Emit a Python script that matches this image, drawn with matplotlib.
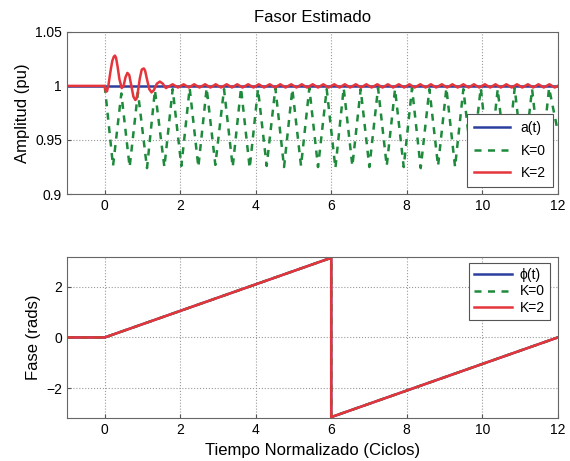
import matplotlib.pyplot as plt
import numpy as np

plt.rcParams['font.family'] = ['Liberation Sans', 'DejaVu Sans']

# --- amplitud ---
t_ref = [-1.0, 12.0]
a_ref = [1.0, 1.0]

# K=0: picos y valles de la estimacion de amplitud
k0_t = [0.00, 0.22, 0.44, 0.66, 0.88, 1.12, 1.33, 1.58, 1.80, 2.03, 2.25, 2.48,
        2.70, 2.93, 3.16, 3.39, 3.61, 3.84, 4.06, 4.29, 4.52, 4.75, 4.97, 5.20,
        5.42, 5.65, 5.88, 6.11, 6.33, 6.56, 6.78, 7.01, 7.24, 7.47, 7.69, 7.92,
        8.14, 8.37, 8.60, 8.83, 9.05, 9.28, 9.50, 9.73, 9.96, 10.19, 10.41, 10.64,
        10.86, 11.09, 11.32, 11.55, 11.77, 11.99]
k0_a = [1.000, 0.926, 0.993, 0.925, 0.994, 0.924, 0.996, 0.925, 0.997, 0.926, 0.998, 0.925,
        0.998, 0.927, 0.997, 0.925, 0.998, 0.924, 0.997, 0.926, 0.998, 0.925, 0.997, 0.926,
        0.998, 0.925, 0.997, 0.924, 0.998, 0.926, 0.997, 0.925, 0.998, 0.926, 0.997, 0.925,
        0.998, 0.924, 0.997, 0.926, 0.998, 0.925, 0.997, 0.926, 0.998, 0.925, 0.997, 0.924,
        0.998, 0.926, 0.997, 0.925, 0.998, 0.960]

# K=2: transitorio inicial y rizado
k2_t = [-1.0, 0.00, 0.03, 0.06, 0.10, 0.15, 0.20, 0.24, 0.27, 0.30, 0.34, 0.39, 0.45,
        0.50, 0.55, 0.60, 0.65, 0.70, 0.76, 0.81, 0.84, 0.88, 0.93, 0.98, 1.02, 1.04,
        1.07, 1.12, 1.18, 1.24, 1.30, 1.38, 1.46, 1.54, 1.62,
        1.80, 1.94, 2.09, 2.23, 2.37, 2.51, 2.66, 2.80, 2.94, 3.08, 3.23, 3.37,
        3.51, 3.65, 3.80, 3.94, 4.08, 4.22, 4.37, 4.51, 4.65, 4.79, 4.94, 5.08,
        5.22, 5.36, 5.51, 5.65, 5.79, 5.93, 6.08, 6.22, 6.36, 6.50, 6.65, 6.79,
        6.93, 7.07, 7.22, 7.36, 7.50, 7.64, 7.79, 7.93, 8.07, 8.21, 8.36, 8.50,
        8.64, 8.78, 8.93, 9.07, 9.21, 9.35, 9.50, 9.64, 9.78, 9.92, 10.07, 10.21,
        10.35, 10.49, 10.64, 10.78, 10.92, 11.06, 11.21, 11.35, 11.49, 11.63, 11.78, 11.92, 12.0]
k2_a = [1.000, 1.000, 0.995, 0.995, 1.001, 1.013, 1.023, 1.027, 1.028, 1.026, 1.018, 1.006, 0.998,
        1.000, 1.008, 1.012, 1.010, 1.001, 0.990, 0.987, 0.988, 0.995, 1.007, 1.015, 1.016, 1.016,
        1.014, 1.006, 0.997, 0.994, 0.996, 1.002, 1.004, 1.002, 0.998,
        1.0015, 0.9985, 1.0015, 0.9985, 1.0015, 0.9985, 1.0015, 0.9985, 1.0015, 0.9985, 1.0015, 0.9985,
        1.0015, 0.9985, 1.0015, 0.9985, 1.0015, 0.9985, 1.0015, 0.9985, 1.0015, 0.9985, 1.0015, 0.9985,
        1.0015, 0.9985, 1.0015, 0.9985, 1.0015, 0.9985, 1.0015, 0.9985, 1.0015, 0.9985, 1.0015, 0.9985,
        1.0015, 0.9985, 1.0015, 0.9985, 1.0015, 0.9985, 1.0015, 0.9985, 1.0015, 0.9985, 1.0015, 0.9985,
        1.0015, 0.9985, 1.0015, 0.9985, 1.0015, 0.9985, 1.0015, 0.9985, 1.0015, 0.9985, 1.0015, 0.9985,
        1.0015, 0.9985, 1.0015, 0.9985, 1.0015, 0.9985, 1.0015, 0.9985, 1.0015, 0.9985, 1.0015, 0.9985, 1.000]

# --- fase ---
t_fase = [-1.0, 0.0, 6.0, 6.0, 12.0]
phi_ref = [0.0, 0.0, 3.14, -3.14, 0.0]
phi_k0 = [0.0, 0.0, 3.14, -3.14, 0.0]
phi_k2 = [0.0, 0.0, 3.14, -3.14, 0.0]

x_ticks = [0, 2, 4, 6, 8, 10, 12]

c_blue = '#2b3f9e'
c_green = '#1e8a3c'
c_red = '#e5353b'
dash = (0, (2.8, 2.6))

fig = plt.figure(figsize=(5.70, 4.61), dpi=100)
ax1 = fig.add_axes([0.1175, 0.579, 0.861, 0.352])
ax2 = fig.add_axes([0.1175, 0.093, 0.861, 0.350])

ax1.plot(t_ref, a_ref, color=c_blue, lw=1.8, label='a(t)')
ax1.plot(k0_t, k0_a, color=c_green, lw=1.8, linestyle=dash, label='K=0')
ax1.plot(k2_t, k2_a, color=c_red, lw=1.8, label='K=2')
ax1.set_xlim(-1, 12)
ax1.set_ylim(0.9, 1.05)
ax1.set_yticks([0.9, 0.95, 1.0, 1.05])
ax1.set_yticklabels(['0.9', '0.95', '1', '1.05'])
ax1.set_ylabel('Amplitud (pu)', fontsize=12)
ax1.set_title('Fasor Estimado', fontsize=12, pad=7)

ax2.plot(t_fase, phi_ref, color=c_blue, lw=1.8, label='\u03d5(t)')
ax2.plot(t_fase, phi_k0, color=c_green, lw=1.8, linestyle=dash, label='K=0')
ax2.plot(t_fase, phi_k2, color=c_red, lw=1.8, label='K=2')
ax2.set_xlim(-1, 12)
ax2.set_ylim(-3.18, 3.18)
ax2.set_yticks([-2, 0, 2])
ax2.set_yticklabels(['\u22122', '0', '2'])
ax2.set_ylabel('Fase (rads)', fontsize=12)
ax2.set_xlabel('Tiempo Normalizado (Ciclos)', fontsize=12)

for ax in (ax1, ax2):
    ax.set_xticks(x_ticks)
    ax.grid(True, linestyle=':', color='#9a9a9a', lw=0.8)
    ax.tick_params(labelsize=10, color='#555555', direction='in', length=3)
    for s in ax.spines.values():
        s.set_color('#666666')

leg1 = ax1.legend(loc='lower right', bbox_to_anchor=(0.99, 0.043), borderaxespad=0,
                  fontsize=10, handlelength=2.6, labelspacing=0.62, borderpad=0.5,
                  fancybox=False, framealpha=1, edgecolor='#555555')
leg2 = ax2.legend(loc='upper right', bbox_to_anchor=(0.984, 0.963), borderaxespad=0,
                  fontsize=10, handlelength=2.7, labelspacing=0.2, borderpad=0.35,
                  handletextpad=0.6, fancybox=False, framealpha=1, edgecolor='#555555')
for leg in (leg1, leg2):
    leg.get_frame().set_linewidth(0.8)

fig.savefig('out.png', dpi=100)
